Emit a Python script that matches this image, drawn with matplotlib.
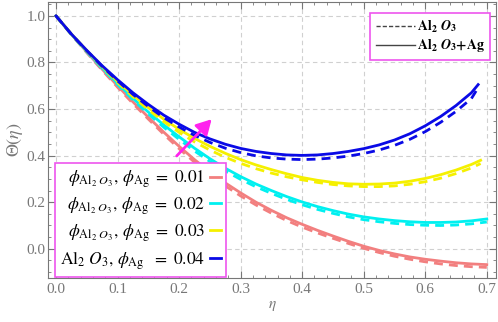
import matplotlib
matplotlib.use("Agg")
import matplotlib.pyplot as plt
from matplotlib.lines import Line2D
from matplotlib.ticker import MultipleLocator, FormatStrFormatter

plt.rcParams["font.family"] = "Liberation Serif"
plt.rcParams["mathtext.fontset"] = "stix"

# eta values (last point differs per curve)
eta = [0.0, 0.025, 0.05, 0.075, 0.1, 0.125, 0.15, 0.175, 0.2, 0.225, 0.25, 0.275,
       0.3, 0.325, 0.35, 0.375, 0.4, 0.425, 0.45, 0.475, 0.5, 0.525, 0.55, 0.575,
       0.6, 0.625, 0.65, 0.675]
eta_end_blue = 0.686
eta_end_yellow = 0.69
eta_end_cyan = 0.70
eta_end_red = 0.70

# Al2O3 + Ag (solid)
blue_solid = [1.0, 0.922, 0.852, 0.786, 0.726, 0.670, 0.620, 0.574, 0.535, 0.500, 0.472, 0.449,
              0.431, 0.418, 0.409, 0.403, 0.401, 0.403, 0.409, 0.418, 0.430, 0.446, 0.467, 0.494,
              0.528, 0.568, 0.615, 0.670, 0.705]
yellow_solid = [1.0, 0.922, 0.851, 0.783, 0.719, 0.660, 0.606, 0.557, 0.513, 0.474, 0.440, 0.410,
                0.383, 0.360, 0.340, 0.322, 0.306, 0.294, 0.285, 0.279, 0.277, 0.278, 0.282, 0.290,
                0.302, 0.318, 0.338, 0.362, 0.380]
cyan_solid = [1.0, 0.921, 0.848, 0.777, 0.710, 0.646, 0.587, 0.532, 0.481, 0.432, 0.387, 0.346,
              0.310, 0.278, 0.250, 0.224, 0.201, 0.181, 0.164, 0.149, 0.137, 0.128, 0.121, 0.116,
              0.113, 0.113, 0.115, 0.120, 0.128]
red_solid = [1.0, 0.921, 0.845, 0.771, 0.700, 0.631, 0.565, 0.501, 0.440, 0.383, 0.330, 0.283,
             0.240, 0.200, 0.165, 0.133, 0.105, 0.079, 0.055, 0.032, 0.011, -0.007, -0.022, -0.035,
             -0.045, -0.053, -0.060, -0.065, -0.068]

# Al2O3 (dashed)
blue_dash = [1.0, 0.921, 0.850, 0.783, 0.721, 0.663, 0.611, 0.563, 0.523, 0.487, 0.457, 0.432,
             0.413, 0.399, 0.390, 0.385, 0.383, 0.385, 0.390, 0.398, 0.409, 0.424, 0.444, 0.470,
             0.503, 0.543, 0.590, 0.645, 0.692]
yellow_dash = [1.0, 0.921, 0.849, 0.780, 0.714, 0.653, 0.597, 0.546, 0.500, 0.459, 0.424, 0.393,
               0.367, 0.344, 0.325, 0.309, 0.296, 0.285, 0.276, 0.270, 0.267, 0.267, 0.270, 0.277,
               0.288, 0.303, 0.323, 0.347, 0.366]
cyan_dash = [1.0, 0.920, 0.846, 0.774, 0.705, 0.640, 0.579, 0.522, 0.470, 0.420, 0.375, 0.334,
             0.298, 0.266, 0.238, 0.212, 0.189, 0.169, 0.152, 0.137, 0.125, 0.116, 0.109, 0.104,
             0.101, 0.100, 0.102, 0.107, 0.115]
red_dash = [1.0, 0.920, 0.842, 0.767, 0.694, 0.624, 0.557, 0.492, 0.430, 0.372, 0.318, 0.270,
            0.227, 0.188, 0.153, 0.121, 0.093, 0.068, 0.045, 0.023, 0.002, -0.016, -0.032, -0.045,
            -0.056, -0.065, -0.072, -0.077, -0.080]

phi_values = ["0.01", "0.02", "0.03", "0.04"]

c_red = "#f27f7f"
c_cyan = "#00f0f0"
c_yellow = "#f5f000"
c_blue = "#0a0ae6"
gray = "#777777"

fig = plt.figure(figsize=(4.98, 3.22), dpi=100)
ax = fig.add_axes([0.0964, 0.137, 0.8996, 0.857])

lw = 2.0
series = [
    (red_solid, red_dash, eta_end_red, c_red),
    (cyan_solid, cyan_dash, eta_end_cyan, c_cyan),
    (yellow_solid, yellow_dash, eta_end_yellow, c_yellow),
    (blue_solid, blue_dash, eta_end_blue, c_blue),
]
for solid, dash, x_end, col in series:
    xs = eta + [x_end]
    ax.plot(xs, solid, color=col, lw=lw, solid_joinstyle="round")
    ax.plot(xs, dash, color=col, lw=lw, ls=(0, (3.2, 2.2)))

# direction arrow
ax.annotate("", xy=(0.256, 0.565), xytext=(0.193, 0.39),
            arrowprops=dict(arrowstyle="-|>,head_length=0.9,head_width=0.5",
                            color="#ff22ee", lw=2), zorder=5)

ax.set_xlim(-0.013, 0.715)
ax.set_ylim(-0.125, 1.06)
ax.xaxis.set_major_locator(MultipleLocator(0.1))
ax.xaxis.set_minor_locator(MultipleLocator(0.02))
ax.yaxis.set_major_locator(MultipleLocator(0.2))
ax.yaxis.set_minor_locator(MultipleLocator(0.05))
ax.tick_params(which="both", direction="in", top=True, right=True, color=gray,
               labelcolor=gray, labelsize=11)
ax.tick_params(which="major", length=5)
ax.tick_params(which="minor", length=2.5)
ax.tick_params(axis="y", pad=2)
ax.xaxis.set_major_formatter(FormatStrFormatter("%.1f"))
ax.yaxis.set_major_formatter(FormatStrFormatter("%.1f"))
for s in ax.spines.values():
    s.set_color(gray)
ax.grid(True, which="major", ls=(0, (4, 3)), color="#d0d0d0", lw=0.8)
ax.set_axisbelow(True)

ax.set_xlabel(r"$\eta$", color=gray, fontsize=11, labelpad=2)
ax.set_ylabel(r"$\Theta(\eta)$", color=gray, fontsize=13, labelpad=1)

# legend for line style
h1 = [Line2D([], [], color="#444444", lw=1, ls=(0, (3, 1.5))),
      Line2D([], [], color="#444444", lw=1)]
leg1 = ax.legend(h1, [r"$\mathbf{Al_2}\ \mathbfit{O}_\mathbf{3}$",
                      r"$\mathbf{Al_2}\ \mathbfit{O}_\mathbf{3}\mathbf{+Ag}$"],
                 loc="upper right", bbox_to_anchor=(0.987, 0.96), borderaxespad=0,
                 fontsize=10, handlelength=2.8, handletextpad=0.15, labelspacing=0.2,
                 fancybox=False, edgecolor="#ee55ee", framealpha=1)
leg1.get_frame().set_linewidth(1.2)
ax.add_artist(leg1)

# legend for phi
cols = [c_red, c_cyan, c_yellow, c_blue]
h2 = [Line2D([], [], color=c, lw=2) for c in cols]
lab2 = [r"$\phi_{\mathrm{Al}_2\ O_3},\,\phi_{\mathrm{Ag}}\ =\ " + v + "$" for v in phi_values[:3]]
lab2.append(r"$\mathrm{Al}_2\ O_3,\,\phi_{\mathrm{Ag}}\ \ =\ " + phi_values[3] + "$")
leg2 = ax.legend(h2, lab2, loc="lower left", bbox_to_anchor=(0.0156, 0.004),
                 borderaxespad=0, fontsize=12.5, markerfirst=False, handlelength=0.6,
                 handletextpad=0.3, labelspacing=0.3, borderpad=0.3,
                 fancybox=False, edgecolor="#ee55ee", framealpha=1)
leg2.get_frame().set_linewidth(1.2)
leg2.set_zorder(10)

fig.savefig("out.png", dpi=100)
